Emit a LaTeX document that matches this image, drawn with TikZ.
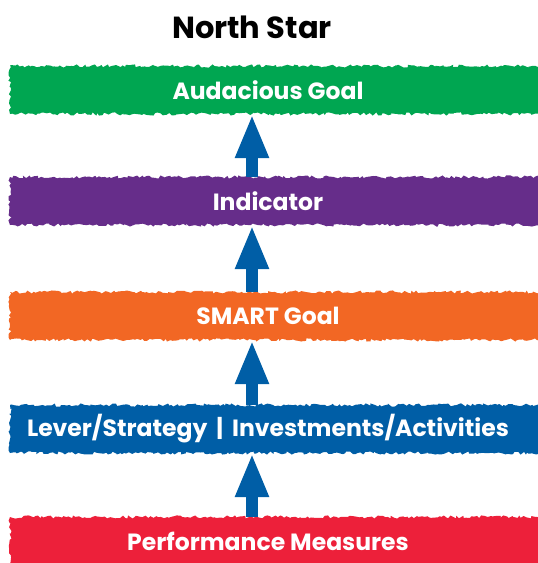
\documentclass[tikz,border=0pt]{standalone}
\usepackage{fontspec}
\setmainfont{Poppins}
\usetikzlibrary{arrows.meta,decorations.pathmorphing}
\definecolor{goalgreen}{RGB}{0,166,81}
\definecolor{indpurple}{RGB}{102,45,138}
\definecolor{smartorange}{RGB}{242,103,36}
\definecolor{leverblue}{RGB}{0,94,166}
\definecolor{perfred}{RGB}{237,32,58}
\begin{document}
\begin{tikzpicture}[x=1pt,y=-1pt]
        \tikzset{band/.style = {fill=#1,minimum width=532pt,minimum height=48pt,inner sep=0pt,
                decorate,decoration={random steps,segment length=2.5pt,amplitude=1.6pt}}}
        \tikzset{bandtext/.style = {text=white,font=\fontsize{23.5}{26}\selectfont\bfseries,xshift=-8pt}}
        \tikzset{lift/.style = {-{Triangle[length=44pt,width=31pt]},line width=12pt,leverblue}}
        \pgfmathsetseed{7}
        \useasboundingbox (0,0) rectangle (538,563);
        % title
        \node[font=\fontsize{30.5}{34}\selectfont\bfseries] (title) at (252,27) {North Star};
        % bands
        \node[band=goalgreen] (goal) at (276,90) {};
        \node[band=indpurple] (ind) at (276,201) {};
        \node[band=smartorange] (smart) at (276,316) {};
        \node[band=leverblue] (lever) at (276,429) {};
        \node[band=perfred] (perf) at (276,541) {};
        % arrows
        \draw[lift] (title |- ind.north) -- (title |- goal.south);
        \draw[lift] (title |- smart.north) -- (title |- ind.south);
        \draw[lift] (title |- lever.north) -- (title |- smart.south);
        \draw[lift] (title |- perf.north) -- (title |- lever.south);
        % labels
        \node[bandtext] (goaltxt) at (goal.center) {Audacious Goal};
        \node[bandtext] (indtxt) at (ind.center) {Indicator};
        \node[bandtext] (smarttxt) at (smart.center) {SMART Goal};
        \node[bandtext] (levertxt) at (lever.center) {Lever/Strategy \,|\, Investments/Activities};
        \node[bandtext] (perftxt) at (perf.center) {Performance Measures};
\end{tikzpicture}
\end{document}
